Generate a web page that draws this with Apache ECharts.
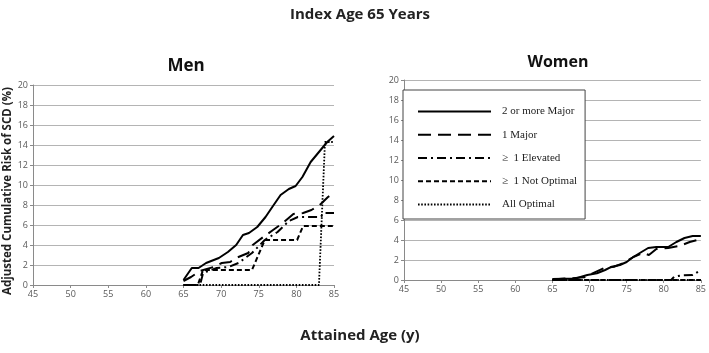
<!DOCTYPE html>
<html>
<head>
<meta charset="utf-8">
<script src="https://cdn.jsdelivr.net/npm/echarts@6/dist/echarts.min.js"></script>
<style>
    html, body { margin: 0; padding: 0; background: #fff; }
    #chart { width: 709px; height: 353px; }
</style>
</head>
<body>
<div id="chart"></div>
<script>
// 图例名称
var seriesNames = [ '2 or more Major', '1 Major', '\u2265  1 Elevated', '\u2265  1 Not Optimal', 'All Optimal' ];
var yTicks = [ 0, 2, 4, 6, 8, 10, 12, 14, 16, 18, 20 ];
var xTicks = [ 45, 50, 55, 60, 65, 70, 75, 80, 85 ];

// 男性 [年龄, 风险%]
var menTwoMajor = [ [ 65, 0.5 ], [ 66.1, 1.7 ], [ 67, 1.7 ], [ 68, 2.2 ], [ 69.7, 2.7 ], [ 70.9, 3.3 ], [ 72, 4 ], [ 72.9, 5 ],
        [ 73.7, 5.2 ], [ 74.8, 5.8 ], [ 75.9, 6.8 ], [ 76.8, 7.8 ], [ 77.9, 9 ], [ 79, 9.6 ], [ 79.9, 9.9 ], [ 80.8, 10.8 ],
        [ 81.9, 12.3 ], [ 83, 13.3 ], [ 84.1, 14.3 ], [ 85, 14.9 ] ];
var menOneMajor = [ [ 65, 0.4 ], [ 66, 0.8 ], [ 67.2, 1.4 ], [ 69, 1.8 ], [ 70.1, 2.2 ], [ 71.2, 2.3 ], [ 72.3, 2.8 ], [ 73.6, 3.2 ],
        [ 74.2, 4 ], [ 75.6, 4.8 ], [ 76.9, 5.5 ], [ 78.2, 6.2 ], [ 79.6, 7.1 ], [ 80.9, 7.2 ], [ 82, 7.5 ], [ 83.1, 8 ],
        [ 84.2, 8.8 ], [ 85, 9.2 ] ];
var menElevated = [ [ 65, 0 ], [ 67.2, 0 ], [ 67.6, 1.2 ], [ 69.4, 1.7 ], [ 71, 1.8 ], [ 72.3, 2.2 ], [ 74.1, 3.2 ], [ 75.8, 4.5 ],
        [ 77.5, 5.3 ], [ 79, 6.4 ], [ 80.2, 6.8 ], [ 83.2, 6.8 ], [ 83.8, 7.2 ], [ 85, 7.2 ] ];
var menNotOptimal = [ [ 65, 0 ], [ 66.9, 0 ], [ 67.6, 1.5 ], [ 74.1, 1.5 ], [ 75.8, 4.5 ], [ 80.1, 4.5 ], [ 80.9, 5.9 ], [ 85, 5.9 ] ];
var menAllOptimal = [ [ 65, 0 ], [ 83, 0 ], [ 83.8, 14.3 ], [ 85, 14.3 ] ];

// 女性
var womenTwoMajor = [ [ 65, 0.1 ], [ 68.1, 0.15 ], [ 69.7, 0.5 ], [ 71, 0.67 ], [ 72.1, 1 ], [ 73, 1.33 ], [ 74.1, 1.5 ], [ 75, 1.8 ],
        [ 75.9, 2.3 ], [ 77, 2.8 ], [ 77.9, 3.2 ], [ 79, 3.3 ], [ 80.6, 3.3 ], [ 81.7, 3.8 ], [ 82.8, 4.2 ], [ 83.9, 4.4 ], [ 85, 4.4 ] ];
var womenOneMajor = [ [ 65, 0.05 ], [ 69.3, 0.27 ], [ 70.4, 0.67 ], [ 72, 1.2 ], [ 73.3, 1.33 ], [ 74.6, 1.7 ], [ 75.9, 2.3 ],
        [ 77.2, 2.7 ], [ 78, 2.5 ], [ 79, 3.1 ], [ 80.6, 3.2 ], [ 82.1, 3.4 ], [ 83.5, 3.8 ], [ 85, 4.1 ] ];
var womenElevated = [ [ 65, 0 ], [ 81, 0 ], [ 81.4, 0.33 ], [ 82.3, 0.45 ], [ 83.9, 0.5 ], [ 85, 1.0 ] ];
var womenNotOptimal = [ [ 65, 0 ], [ 85, 0 ] ];
var womenAllOptimal = [ [ 65, 0 ], [ 85, 0 ] ];

var lineStyles = [
    { width : 2, type : 'solid' },
    { width : 2, type : [ 13, 7 ] },
    { width : 2, type : [ 9, 4, 2, 4 ] },
    { width : 2, type : [ 5, 3 ] },
    { width : 1.8, type : [ 1.6, 1.6 ] }
];

var chart = echarts.init(document.getElementById('chart'), null, { renderer : 'canvas' });

function makeXAxis(gridIndex) {
    return {
        type : 'value',
        gridIndex : gridIndex,
        min : xTicks[0],
        max : xTicks[xTicks.length - 1],
        interval : 5,
        axisLine : { lineStyle : { color : '#8a8a8a', width : 1 } },
        axisTick : { show : true, length : 3, lineStyle : { color : '#8a8a8a' } },
        axisLabel : { color : '#595959', fontSize : 9, fontFamily : 'Open Sans', margin : 5 },
        splitLine : { show : false }
    };
}

function makeYAxis(gridIndex, name) {
    return {
        type : 'value',
        gridIndex : gridIndex,
        min : yTicks[0],
        max : yTicks[yTicks.length - 1],
        interval : 2,
        name : name,
        nameLocation : 'middle',
        nameGap : 16,
        nameTextStyle : { fontSize : 11.5, fontWeight : 'bold', color : '#222', fontFamily : 'Open Sans', padding : [ 0, 12, 0, 0 ] },
        axisLine : { show : true, lineStyle : { color : '#8a8a8a', width : 1 } },
        axisTick : { show : true, length : 3, lineStyle : { color : '#8a8a8a' } },
        axisLabel : { color : '#595959', fontSize : 9, fontFamily : 'Open Sans', margin : 5 },
        splitLine : { show : true, lineStyle : { color : '#b4b4b4', width : 1 } }
    };
}

var menData = [ menTwoMajor, menOneMajor, menElevated, menNotOptimal, menAllOptimal ];
var womenData = [ womenTwoMajor, womenOneMajor, womenElevated, womenNotOptimal, womenAllOptimal ];
var series = [];
for (var i = 0; i < seriesNames.length; i++) {
    var grids = [ menData, womenData ];
    for (var g = 0; g < 2; g++) {
        series.push({
            name : seriesNames[i],
            type : 'line',
            xAxisIndex : g,
            yAxisIndex : g,
            data : grids[g][i],
            symbol : 'none',
            smooth : false,
            silent : true,
            color : '#000',
            itemStyle : { color : '#000' },
            lineStyle : { color : '#000', width : lineStyles[i].width, type : lineStyles[i].type }
        });
    }
}

var option = {
    animation : false,
    backgroundColor : '#fff',
    title : [
        { text : 'Index Age 65 Years', left : 355, top : 2, textAlign : 'center',
            textStyle : { fontSize : 15, fontWeight : 'bold', color : '#222', fontFamily : 'Open Sans' } },
        { text : 'Men', left : 181, top : 53, textAlign : 'center',
            textStyle : { fontSize : 17, fontWeight : 'bold', color : '#111', fontFamily : 'Open Sans' } },
        { text : 'Women', left : 553, top : 49, textAlign : 'center',
            textStyle : { fontSize : 16, fontWeight : 'bold', color : '#111', fontFamily : 'Open Sans' } },
        { text : 'Attained Age (y)', left : 355, top : 323, textAlign : 'center',
            textStyle : { fontSize : 15, fontWeight : 'bold', color : '#222', fontFamily : 'Open Sans' } }
    ],
    legend : {
        data : seriesNames,
        orient : 'vertical',
        left : 403,
        top : 90,
        padding : [ 16, 8, 9, 14 ],
        itemWidth : 73,
        itemHeight : 14,
        itemGap : 12,
        backgroundColor : '#fff',
        borderColor : '#444',
        borderWidth : 1,
        selectedMode : false,
        z : 10,
        itemStyle : { opacity : 0, borderWidth : 0 },
        textStyle : { fontFamily : 'Liberation Serif', fontSize : 11, color : '#222', padding : [ 0, 0, 0, 6 ] }
    },
    grid : [
        { left : 33, right : 375, top : 85, bottom : 68 },
        { left : 404, right : 4, top : 80, bottom : 73 }
    ],
    xAxis : [ makeXAxis(0), makeXAxis(1) ],
    yAxis : [ makeYAxis(0, 'Adjusted Cumulative Risk of SCD (%)'), makeYAxis(1, '') ],
    series : series
};
chart.setOption(option);
</script>
</body>
</html>
